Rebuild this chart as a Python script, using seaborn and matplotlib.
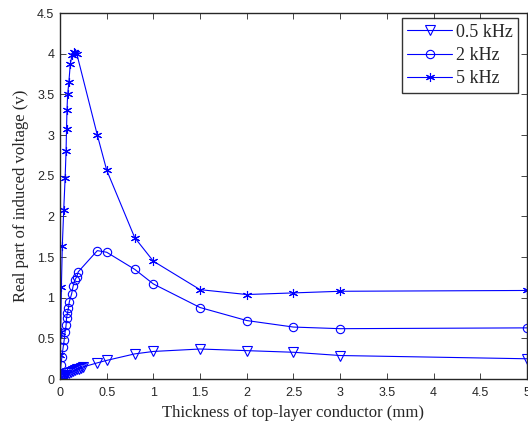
import numpy as np
import pandas as pd
import matplotlib
matplotlib.use("Agg")
import matplotlib.pyplot as plt
import seaborn as sns

# thickness (mm) and real part of induced voltage (V)
x_05 = [0, 0.01, 0.02, 0.03, 0.04, 0.05, 0.06, 0.08, 0.1, 0.12, 0.14, 0.16, 0.18, 0.2, 0.22, 0.25,
        0.4, 0.5, 0.8, 1, 1.5, 2, 2.5, 3, 5]
y_05 = [0.0, 0.01, 0.02, 0.03, 0.04, 0.045, 0.055, 0.07, 0.08, 0.09, 0.1, 0.11, 0.12, 0.13, 0.14, 0.15,
        0.20, 0.23, 0.31, 0.34, 0.37, 0.35, 0.33, 0.29, 0.25]

x_2 = [0, 0.005, 0.01, 0.02, 0.035, 0.045, 0.055, 0.065, 0.07, 0.08, 0.09, 0.1, 0.125, 0.14, 0.16, 0.18, 0.196,
       0.4, 0.5, 0.8, 1, 1.5, 2, 2.5, 3, 5]
y_2 = [0.02, 0.08, 0.17, 0.27, 0.40, 0.48, 0.58, 0.66, 0.75, 0.81, 0.87, 0.95, 1.05, 1.14, 1.22, 1.26, 1.32,
       1.58, 1.56, 1.35, 1.17, 0.88, 0.72, 0.64, 0.62, 0.63]

x_5 = [0, 0.004, 0.008, 0.015, 0.025, 0.04, 0.055, 0.065, 0.07, 0.075, 0.082, 0.095, 0.11, 0.13, 0.15, 0.165, 0.18,
       0.4, 0.5, 0.8, 1, 1.5, 2, 2.5, 3, 5]
y_5 = [0.02, 0.3, 0.58, 1.13, 1.64, 2.08, 2.47, 2.80, 3.07, 3.31, 3.50, 3.65, 3.87, 3.99, 4.02, 4.01, 4.0,
       3.0, 2.57, 1.74, 1.45, 1.10, 1.04, 1.06, 1.08, 1.09]

labels = ['0.5 kHz', '2 kHz', '5 kHz']

sns.set_style('ticks')
plt.rcParams['font.family'] = ['Liberation Sans', 'DejaVu Sans']
plt.rcParams['xtick.direction'] = 'in'
plt.rcParams['ytick.direction'] = 'in'

fig = plt.figure(figsize=(5.28, 4.25), dpi=100)
ax = fig.add_axes([0.1136, 0.108, 0.8844, 0.861])

blue = '#0000ff'
star = (6, 2, 0)
series = [(x_05, y_05, 'v', 6.5), (x_2, y_2, 'o', 6), (x_5, y_5, star, 6.5)]
for (xs, ys, mk, ms), lab in zip(series, labels):
    df = pd.DataFrame({'x': xs, 'y': ys})
    sns.lineplot(data=df, x='x', y='y', ax=ax, color=blue, marker=mk, markersize=ms,
                 markerfacecolor='none', markeredgecolor=blue, markeredgewidth=0.8,
                 linewidth=0.8, sort=False, label=lab)

ax.set_xlim(0, 5)
ax.set_ylim(0, 4.5)
ax.set_xticks(np.arange(0, 5.01, 0.5))
ax.set_yticks(np.arange(0, 4.51, 0.5))
ax.set_xticklabels(['0', '0.5', '1', '1.5', '2', '2.5', '3', '3.5', '4', '4.5', '5'])
ax.set_yticklabels(['0', '0.5', '1', '1.5', '2', '2.5', '3', '3.5', '4', '4.5'])
ax.tick_params(axis='x', labelsize=9, length=4, width=0.6, top=True, pad=6)
ax.tick_params(axis='y', labelsize=9, length=4, width=0.6, right=True, pad=4)
for s in ax.spines.values():
    s.set_visible(True)
    s.set_linewidth(1.0)

serif = ['Liberation Serif', 'DejaVu Serif']
ax.set_xlabel('Thickness of top-layer conductor (mm)', fontsize=12, family=serif, labelpad=4)
ax.set_ylabel('Real part of induced voltage (v)', fontsize=12, family=serif, labelpad=6)

leg = ax.legend(loc='upper right', bbox_to_anchor=(0.981, 0.986), prop={'family': serif, 'size': 13},
                frameon=True, fancybox=False, handlelength=2.5, borderpad=0.3,
                labelspacing=0.35, handletextpad=0.2, borderaxespad=0)
leg.get_frame().set_edgecolor('black')
leg.get_frame().set_linewidth(1.0)

fig.savefig('out.png', dpi=100)
